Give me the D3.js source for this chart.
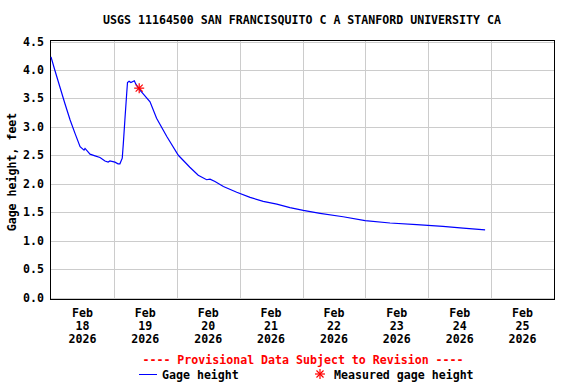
<!DOCTYPE html>
<html><head><meta charset="utf-8">
<script src="https://cdn.jsdelivr.net/npm/d3@7"></script>
<style>
html,body{margin:0;padding:0;background:#fff;}
text{font-family:"DejaVu Sans Mono","Liberation Mono",monospace;font-weight:bold;font-size:11.6px;}
</style></head>
<body><svg id="c" width="576" height="384"></svg>
<script>
const title = "USGS 11164500 SAN FRANCISQUITO C A STANFORD UNIVERSITY CA";
const yLabel = "Gage height, feet";
const times = [
"2026-02-18T00:00","2026-02-18T01:30","2026-02-18T03:24","2026-02-18T05:18","2026-02-18T07:18",
"2026-02-18T09:12","2026-02-18T11:06","2026-02-18T12:36","2026-02-18T13:00","2026-02-18T14:54",
"2026-02-18T16:48","2026-02-18T18:42","2026-02-18T20:36","2026-02-18T21:48","2026-02-18T22:30",
"2026-02-19T00:24","2026-02-19T01:36","2026-02-19T02:18","2026-02-19T03:12","2026-02-19T03:36",
"2026-02-19T04:12","2026-02-19T04:54","2026-02-19T05:12","2026-02-19T05:48","2026-02-19T06:30",
"2026-02-19T07:48","2026-02-19T08:24","2026-02-19T09:42","2026-02-19T11:12","2026-02-19T13:48",
"2026-02-19T16:18","2026-02-19T20:12","2026-02-20T00:36","2026-02-20T05:00","2026-02-20T08:12",
"2026-02-20T11:24","2026-02-20T12:42","2026-02-20T14:36","2026-02-20T17:48","2026-02-20T22:54",
"2026-02-21T04:00","2026-02-21T09:00","2026-02-21T14:12","2026-02-21T19:12","2026-02-22T00:18",
"2026-02-22T06:42","2026-02-22T15:30","2026-02-22T23:54","2026-02-23T09:24","2026-02-23T19:36",
"2026-02-24T05:36","2026-02-24T13:18","2026-02-24T21:42"];
const gageHeight = [
4.23,3.99,3.70,3.41,3.12,
2.88,2.65,2.59,2.62,2.52,
2.49,2.46,2.40,2.38,2.40,
2.38,2.35,2.35,2.45,2.70,
3.12,3.59,3.78,3.80,3.78,
3.81,3.75,3.66,3.58,3.44,
3.15,2.83,2.50,2.29,2.15,
2.07,2.08,2.04,1.95,1.85,
1.76,1.69,1.64,1.58,1.53,
1.48,1.42,1.35,1.31,1.28,
1.25,1.22,1.19];
const measuredTimes = ["2026-02-19T09:40"];
const measuredValues = [3.68];
const dayTicks = ["2026-02-18","2026-02-19","2026-02-20","2026-02-21","2026-02-22","2026-02-23","2026-02-24","2026-02-25"];
const yTicks = [0.0,0.5,1.0,1.5,2.0,2.5,3.0,3.5,4.0,4.5];
const provisional = "---- Provisional Data Subject to Revision ----";
const legendLine = "Gage height";
const legendStar = "Measured gage height";

const parse = d3.timeParse("%Y-%m-%dT%H:%M");
const parseDay = d3.timeParse("%Y-%m-%d");
const svg = d3.select("#c");
const L=51, R=554, T=41.5, B=297.5;
const x = d3.scaleTime().domain([parseDay("2026-02-18"), parseDay("2026-02-26")]).range([L,R]);
const y = d3.scaleLinear().domain([0,4.5]).range([B,T]);

// grid
const grid = svg.append("g").attr("stroke","#cccccc").attr("stroke-width",1).attr("shape-rendering","crispEdges");
yTicks.forEach(v=>{ grid.append("line").attr("x1",L).attr("x2",R).attr("y1",Math.round(y(v))+0.5).attr("y2",Math.round(y(v))+0.5); });
const midnights = d3.timeDay.range(parseDay("2026-02-19"), parseDay("2026-02-26"));
midnights.forEach(d=>{ grid.append("line").attr("x1",Math.round(x(d))+0.5).attr("x2",Math.round(x(d))+0.5).attr("y1",T-1).attr("y2",B+1); });

// border
svg.append("rect").attr("x",50.5).attr("y",40.5).attr("width",504).attr("height",258.5)
  .attr("fill","none").attr("stroke","#000").attr("stroke-width",1).attr("shape-rendering","crispEdges");

// line
const data = times.map((t,i)=>({t:parse(t),v:gageHeight[i]}));
svg.append("path").datum(data).attr("fill","none").attr("stroke","#0000ff").attr("stroke-width",1.2)
  .attr("d", d3.line().x(d=>x(d.t)).y(d=>y(d.v)));

// star marker
function star(g, cx, cy, r){
  const s = g.append("g").attr("stroke","#ff0000").attr("stroke-width",1.2);
  for(let k=0;k<4;k++){
    const a = k*Math.PI/4;
    s.append("line").attr("x1",cx-r*Math.cos(a)).attr("y1",cy-r*Math.sin(a))
      .attr("x2",cx+r*Math.cos(a)).attr("y2",cy+r*Math.sin(a));
  }
}
measuredTimes.forEach((t,i)=> star(svg, x(parse(t)), y(measuredValues[i]), 5));

// y tick labels
svg.append("g").selectAll("text").data(yTicks).join("text")
  .attr("x",44).attr("y",d=>y(d)+4).attr("text-anchor","end").text(d=>d.toFixed(1));

// x tick labels
const fmtM = d3.timeFormat("%b"), fmtD = d3.timeFormat("%d"), fmtY = d3.timeFormat("%Y");
dayTicks.forEach(s=>{
  const d = parseDay(s);
  const cx = x(d3.timeHour.offset(d,12));
  const t = svg.append("text").attr("text-anchor","middle");
  t.append("tspan").attr("x",cx).attr("y",317).text(fmtM(d));
  t.append("tspan").attr("x",cx).attr("y",330).text(fmtD(d));
  t.append("tspan").attr("x",cx).attr("y",343).text(fmtY(d));
});

// title
svg.append("text").attr("x",302).attr("y",24).attr("text-anchor","middle").text(title);
// y label
svg.append("text").attr("transform","translate(16,172) rotate(-90)").attr("text-anchor","middle").text(yLabel);
// provisional
svg.append("text").attr("x",303).attr("y",364).attr("text-anchor","middle").attr("fill","#ff0000").text(provisional);
// legend
svg.append("line").attr("x1",139).attr("x2",157).attr("y1",374.5).attr("y2",374.5).attr("stroke","#0000ff").attr("stroke-width",1);
svg.append("text").attr("x",162).attr("y",379).text(legendLine);
star(svg, 320, 374, 5);
svg.append("text").attr("x",334).attr("y",379).text(legendStar);
</script></body></html>
